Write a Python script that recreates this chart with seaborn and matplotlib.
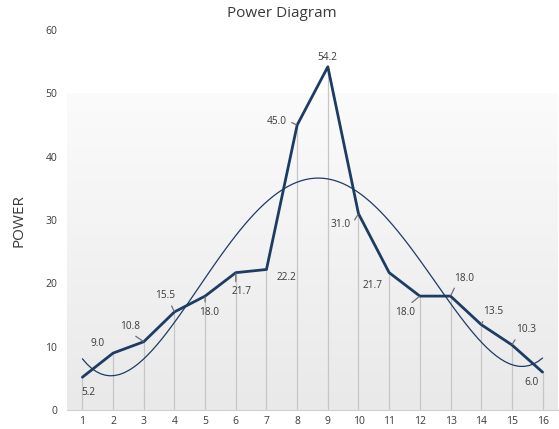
import numpy as np
import pandas as pd
import matplotlib.pyplot as plt
import seaborn as sns
from matplotlib.colors import LinearSegmentedColormap

# values
points = list(range(1, 17))
power = [5.2, 9.0, 10.8, 15.5, 18.0, 21.7, 22.2, 45.0,
         54.2, 31.0, 21.7, 18.0, 18.0, 13.5, 10.3, 6.0]
labels = ["5.2", "9.0", "10.8", "15.5", "18.0", "21.7", "22.2", "45.0",
          "54.2", "31.0", "21.7", "18.0", "18.0", "13.5", "10.3", "6.0"]

# label offsets in pixels, and where the leader line leaves the label (None = no leader)
offsets = [(6, -15), (-16, 10), (-14, 15), (-9, 16), (4, -16), (6, -19),
           (20, -8), (-20, 4), (0, 9), (-18, -11), (-17, -13), (-15, -16),
           (14, 18), (12, 13), (14, 15), (-11, -10)]
leaders = [None, None, (0.5, 0), (0.7, 0), (0.3, 1), (0.2, 1),
           None, (1.05, 0.5), None, (1.05, 0.5), None, (0.6, 1),
           (0.1, 0), (0.1, 0), (0.1, 0), None]

df = pd.DataFrame({"point": points, "power": power})

sns.set_style("white")
plt.rcParams["font.family"] = ["Open Sans", "DejaVu Sans"]

navy = "#1d3c64"
text_col = "#3a3a3a"
fig = plt.figure(figsize=(5.59, 4.29), dpi=100)
ax = fig.add_axes([0.12, 0.044, 0.878, 0.886])

# soft grey gradient behind the plot
grad = np.linspace(0, 1, 256).reshape(-1, 1)
bg = LinearSegmentedColormap.from_list("bg", ["#fbfbfb", "#e9e9e9"])
ax.imshow(grad, extent=[0.5, 16.5, 0, 50], aspect="auto", cmap=bg,
          vmin=0, vmax=1, origin="upper", zorder=0)

# drop lines
ax.vlines(df["point"], 0, df["power"], color="#c6c6c6", lw=0.9, zorder=1)

# polynomial trend line
sns.regplot(data=df, x="point", y="power", order=4, ci=None, scatter=False,
            line_kws={"color": navy, "lw": 0.9}, ax=ax)

sns.lineplot(data=df, x="point", y="power", color=navy, lw=2.0, ax=ax, zorder=3)

for x, y, t, (dx, dy), rel in zip(points, power, labels, offsets, leaders):
    arrow = None
    if rel is not None:
        arrow = dict(arrowstyle="-", color="#6f6f6f", lw=0.9, relpos=rel,
                     shrinkA=1, shrinkB=0.5)
    ax.annotate(t, (x, y), xytext=(dx, dy), textcoords="offset pixels",
                ha="center", va="center", fontsize=7.3, color=text_col,
                arrowprops=arrow, zorder=4)

ax.set_xlim(0.5, 16.5)
ax.set_ylim(0, 60)
ax.set_xticks(points)
ax.set_yticks(range(0, 61, 10))
ax.tick_params(axis="y", length=0, labelsize=7.5, labelcolor=text_col, pad=7)
ax.tick_params(axis="x", length=0, labelsize=7.5, labelcolor=text_col, pad=4)
ax.set_xlabel("")
ax.set_ylabel("POWER", fontsize=11, color=text_col, labelpad=14)
fig.suptitle("Power Diagram", x=0.505, y=0.985, fontsize=11, color=text_col)

for s in ["top", "right", "left"]:
    ax.spines[s].set_visible(False)
ax.spines["bottom"].set_color("#d0d0d0")

fig.savefig("out.png", dpi=100)
